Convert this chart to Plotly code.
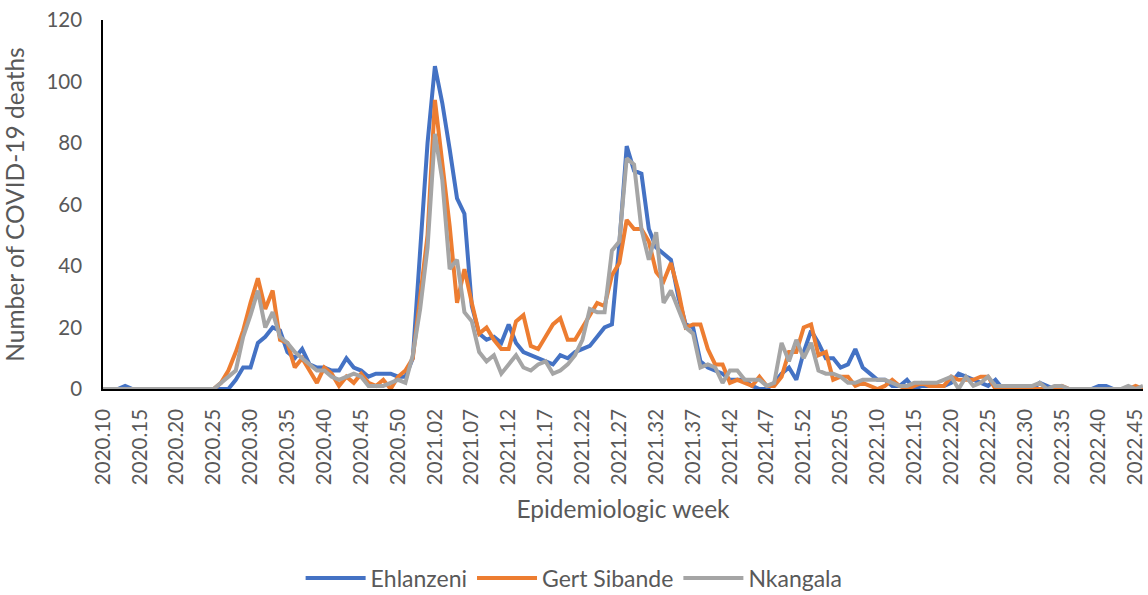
import plotly.graph_objects as go

# Epidemiologic weeks: 2020.10-2020.53, 2021.01-2021.52, 2022.01-2022.46
weeks = ([f"2020.{w:02d}" for w in range(10, 54)]
         + [f"2021.{w:02d}" for w in range(1, 53)]
         + [f"2022.{w:02d}" for w in range(1, 47)])

ehlanzeni = [0, 0, 0, 1, 0, 0, 0, 0, 0, 0, 0, 0, 0, 0, 0,
             0, 0, 0, 3, 7, 7, 15, 17, 20, 19, 12, 10, 13, 8, 7,
             7, 6, 6, 10, 7, 6, 4, 5, 5, 5, 4, 4, 10, 45, 80,
             105, 93, 78, 62, 57, 27, 18, 16, 17, 15, 21, 15, 12, 11, 10,
             9, 8, 11, 10, 12, 13, 14, 17, 20, 21, 47, 79, 71, 70, 52,
             46, 44, 42, 30, 21, 20, 9, 7, 6, 5, 3, 3, 3, 1, 0,
             0, 2, 5, 7, 3, 12, 19, 15, 10, 10, 7, 8, 13, 7, 5,
             3, 3, 1, 1, 3, 0, 1, 1, 1, 1, 2, 5, 4, 3, 2,
             1, 3, 0, 0, 0, 0, 0, 2, 1, 0, 0, 0, 0, 0, 0,
             1, 1, 0, 0, 0, 0, 0]

gert_sibande = [0, 0, 0, 0, 0, 0, 0, 0, 0, 0, 0, 0, 0, 0, 0,
                0, 2, 6, 12, 19, 28, 36, 26, 32, 16, 15, 7, 10, 6, 2,
                7, 5, 1, 4, 2, 5, 2, 1, 3, 0, 4, 6, 10, 30, 50,
                94, 73, 53, 28, 39, 28, 18, 20, 16, 13, 13, 22, 24, 14, 13,
                17, 21, 23, 16, 16, 20, 24, 28, 27, 37, 41, 55, 52, 52, 48,
                38, 35, 41, 32, 20, 21, 21, 13, 8, 8, 2, 3, 2, 1, 4,
                1, 1, 4, 12, 12, 20, 21, 11, 12, 3, 4, 4, 1, 2, 1,
                0, 1, 3, 1, 0, 1, 2, 1, 1, 1, 4, 3, 3, 3, 4,
                4, 0, 0, 0, 0, 0, 0, 0, 0, 0, 1, 0, 0, 0, 0,
                0, 0, 0, 0, 0, 1, 0]

nkangala = [0, 0, 0, 0, 0, 0, 0, 0, 0, 0, 0, 0, 0, 0, 0,
            0, 2, 4, 6, 17, 24, 32, 20, 25, 17, 15, 12, 10, 8, 6,
            6, 4, 3, 4, 5, 4, 1, 1, 1, 2, 3, 2, 11, 26, 46,
            83, 68, 39, 42, 25, 22, 12, 9, 11, 5, 8, 11, 7, 6, 8,
            9, 5, 6, 8, 11, 16, 26, 25, 25, 45, 48, 75, 73, 52, 42,
            51, 28, 32, 26, 20, 18, 7, 8, 7, 2, 6, 6, 3, 3, 3,
            1, 2, 15, 9, 16, 10, 15, 6, 5, 5, 4, 2, 2, 3, 3,
            3, 3, 2, 1, 1, 2, 2, 2, 2, 3, 4, 0, 4, 1, 2,
            4, 1, 1, 1, 1, 1, 1, 2, 0, 1, 1, 0, 0, 0, 0,
            0, 0, 0, 0, 1, 0, 1]

series = [("Ehlanzeni", ehlanzeni, "#4472C4"),
          ("Gert Sibande", gert_sibande, "#ED7D31"),
          ("Nkangala", nkangala, "#A5A5A5")]

tick_labels = weeks[::5]

FONT = "Lato"
GREY = "#595959"

fig = go.Figure()
for name, vals, color in series:
    fig.add_trace(go.Scatter(
        x=weeks, y=vals, name=name, mode="lines",
        line=dict(color=color, width=4, shape="linear"),
    ))

fig.update_layout(
    width=1148, height=595,
    margin=dict(l=103, r=5, t=20, b=206, autoexpand=False),
    paper_bgcolor="white", plot_bgcolor="white",
    font=dict(family=FONT, size=20, color=GREY),
    showlegend=True,
    legend=dict(orientation="h", x=0.453, y=-0.512, xanchor="center", yanchor="middle",
                font=dict(size=23, color=GREY), traceorder="normal", itemwidth=60),
)
fig.update_xaxes(
    type="category", range=[0, len(weeks) - 1],
    tickmode="array", tickvals=tick_labels, ticktext=tick_labels,
    tickangle=-90, ticks="", showgrid=False, zeroline=False,
    showline=True, linecolor="black", linewidth=1.5,
    tickfont=dict(family=FONT, size=20.5, color=GREY), ticklabelstandoff=10,
    ticklabeloverflow="allow",
    title=dict(text="Epidemiologic week", font=dict(family=FONT, size=24.5, color=GREY), standoff=17),
    automargin=False,
)
fig.update_yaxes(
    range=[0, 120], dtick=20, ticks="", showgrid=False, zeroline=False,
    showline=True, linecolor="black", linewidth=1.5,
    tickfont=dict(family=FONT, size=20.5, color=GREY), ticklabelstandoff=15,
    ticklabeloverflow="allow",
    title=dict(text="Number of COVID-19 deaths", font=dict(family=FONT, size=24.5, color=GREY), standoff=29),
    automargin=False,
)

# Remove the default page margin so the 1148x595 figure fills the window exactly.
fig.write_html(
    "out.html",
    config={"displayModeBar": False},
    post_script="document.body.style.margin='0px';document.body.style.overflow='hidden';",
)
